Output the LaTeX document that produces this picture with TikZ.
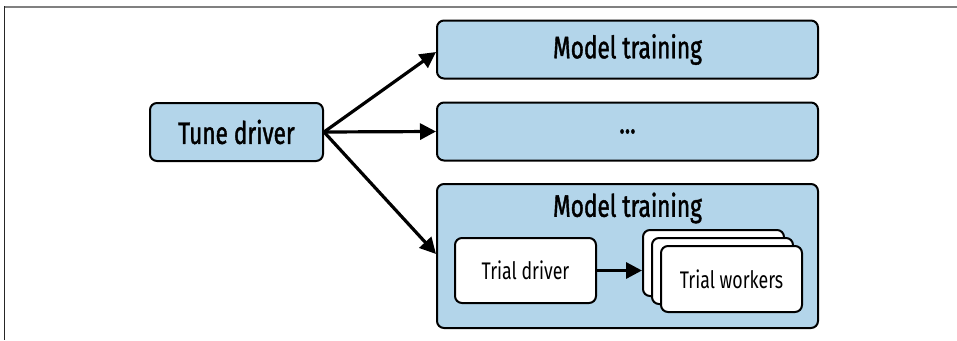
\documentclass[tikz,border=0pt]{standalone}
\usepackage{fontspec}
\setmainfont{Fira Sans}[FakeStretch=0.74]
\newfontfamily\headfont{Fira Sans}[FakeStretch=0.73,FakeBold=1.3]
\usetikzlibrary{arrows.meta,positioning}
\definecolor{boxblue}{HTML}{B3D5EA}
\definecolor{framegray}{HTML}{808080}
\tikzset{
  bluebox/.style={draw=black, line width=2pt, fill=boxblue, rounded corners=7pt, inner sep=0pt},
  whitebox/.style={draw=black, line width=2pt, fill=white, rounded corners=7pt, inner sep=0pt},
  flow/.style={line width=3.2pt, -{Triangle[length=16pt,width=16pt]}},
  bigtext/.style={font=\headfont\fontsize{31}{36}\selectfont},
  smalltext/.style={font=\fontsize{24}{28}\selectfont},
}
\begin{document}
\begin{tikzpicture}[x=1pt,y=-1pt]
\useasboundingbox (0,0) rectangle (957,340);
% page frame
\draw[framegray, line width=2pt] (4,6.5) -- (957,6.5);
\draw[black!85, line width=1.5pt] (4.5,6) -- (4.5,340);

% driver
\node[bluebox, minimum width=173pt, minimum height=58pt] (tune) at (236.5,132) {};
\node[bigtext] at (tune.center) {Tune driver};

% training boxes
\node[bluebox, minimum width=381pt, minimum height=58pt] (mt1) at (627.5,49.5) {};
\node[bigtext] at (mt1.center) {Model training};
\node[bluebox, minimum width=381pt, minimum height=58pt] (dots) at (627.5,131.5) {};
\node[bigtext] at (dots.center) {...};
\node[bluebox, minimum width=381pt, minimum height=144pt] (mt2) at (627.5,256) {};
\node[bigtext] at (627.5,208) {Model training};

% inside the last training box
\node[whitebox, minimum width=141pt, minimum height=65pt] (td) at (525.5,270.5) {};
\node[smalltext] at (td.center) {Trial driver};
\node[whitebox, minimum width=141pt, minimum height=66pt] (w3) at (713.5,263) {};
\node[whitebox, minimum width=141pt, minimum height=66pt] (w2) at (722.5,271) {};
\node[whitebox, minimum width=141pt, minimum height=66pt] (w1) at (731.5,279) {};
\node[smalltext] at (w1.center) {Trial workers};

% connectors
\coordinate (src) at (tune.east);
\draw[flow] (src) -- (mt1.west |- 0,52);
\draw[flow] (src) -- (dots.west);
\draw[flow] (src) -- (mt2.west |- 0,254);
\draw[flow] (td.east) -- (w3.west |- td.east);
\end{tikzpicture}
\end{document}
